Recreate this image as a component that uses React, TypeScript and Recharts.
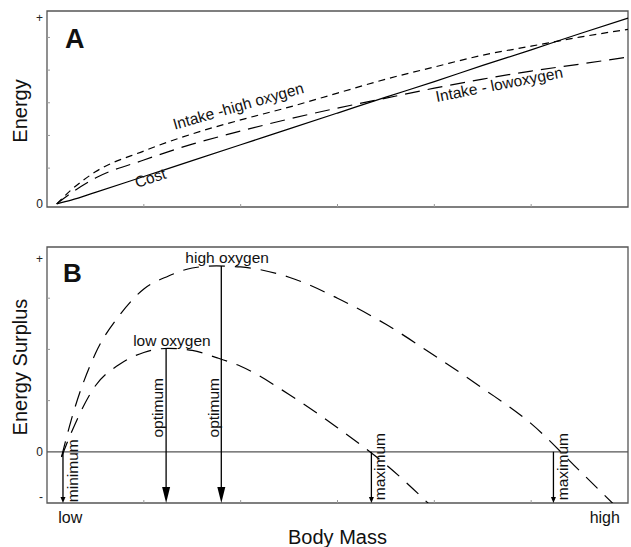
import { LineChart, Line, XAxis, YAxis, ReferenceArea, ReferenceLine, ReferenceDot } from "recharts";

// panel A: energy intake and cost against body mass (arbitrary units)
const massA = [0.1, 0.25, 0.5, 1, 1.5, 2, 2.5, 3, 3.5, 4, 4.5, 5, 5.5, 6];
const costA = [0, 0.12, 0.37, 0.88, 1.39, 1.9, 2.41, 2.92, 3.43, 3.93, 4.45, 4.95, 5.47, 5.97];
const intakeHighA = [0, 0.45, 1.03, 1.7, 2.25, 2.7, 3.11, 3.56, 4.01, 4.4, 4.78, 5.07, 5.36, 5.61];
const intakeLowA = [0, 0.35, 0.83, 1.41, 1.92, 2.34, 2.73, 3.08, 3.4, 3.72, 4.01, 4.27, 4.49, 4.72];

// panel B: energy surplus
const massB = [0.15, 0.25, 0.5, 0.75, 1, 1.25, 1.5, 1.75, 2, 2.5, 3, 3.5, 4, 4.5, 5, 5.5, 6];
const surplusHigh = [-0.1, 0.62, 1.92, 2.67, 3.18, 3.43, 3.59, 3.63, 3.61, 3.41, 3.0, 2.49, 1.88, 1.24, 0.55, -0.37, -1.3];
const surplusLow = [-0.1, 0.37, 1.29, 1.71, 1.94, 2.02, 1.98, 1.84, 1.67, 1.12, 0.47, -0.25, -1.12, null, null, null, null];

// optimum / limit body masses
const optLow = { mass: 1.23, surplus: 2.02 };
const optHigh = { mass: 1.8, surplus: 3.63 };
const minMass = 0.165;
const maxLow = 3.35;
const maxHigh = 5.23;

const ticksAY = [0, 1.15, 2.2, 3.25, 4.3, 5.35, 5.97];
const labelsAY: Record<number, string> = { 0: "0", 5.97: "+" };
const ticksBY = [-0.88, 0, 1, 2, 3, 3.76];
const labelsBY: Record<number, string> = { [-0.88]: "-", 0: "0", 3.76: "+" };
const ticksX = [1, 2, 3, 4, 5];
const ticksBX = [0.24, 1, 2, 3, 4, 5, 5.76];
const labelsBX: Record<number, string> = { 0.24: "low", 5.76: "high" };

const rowsA = massA.map((m, i) => ({ mass: m, cost: costA[i], high: intakeHighA[i], low: intakeLowA[i] }));
const rowsB = massB.map((m, i) => ({ mass: m, high: surplusHigh[i], low: surplusLow[i] }));

const FONT = "'Liberation Sans', Arial, Helvetica, sans-serif";
const FRAME = "#555";

const makeYTick = (labels: Record<number, string>) => (props: any) => {
  const { x, y, payload } = props;
  const label = labels[payload.value];
  return (
    <g>
      {label === undefined && <line x1={x} x2={x + 3} y1={y} y2={y} stroke="#999" />}
      {label !== undefined && (
        <text x={x - 4} y={y} dy={4} textAnchor="end" fontSize={12} fontFamily={FONT} fill="#222">
          {label}
        </text>
      )}
    </g>
  );
};

const makeXTick = (labels: Record<number, string>) => (props: any) => {
  const { x, y, payload } = props;
  const label = labels[payload.value];
  if (label === undefined) return <line x1={x} x2={x} y1={y} y2={y - 3} stroke="#999" />;
  return (
    <text x={x} y={y + 20} textAnchor="middle" fontSize={16} fontFamily={FONT} fill="#111">
      {label}
    </text>
  );
};

const textShape = (text: string, opts: { angle?: number; anchor?: string; size?: number; bold?: boolean }) =>
  (props: any) => {
    const { cx, cy } = props;
    const angle = opts.angle ?? 0;
    return (
      <text
        x={cx}
        y={cy}
        textAnchor={opts.anchor ?? "middle"}
        fontSize={opts.size ?? 15.5}
        fontWeight={opts.bold ? "bold" : "normal"}
        fontFamily={FONT}
        fill="#111"
        transform={angle ? `rotate(${angle} ${cx} ${cy})` : undefined}
      >
        {text}
      </text>
    );
  };

const arrowShape = (headW: number, headH: number) => (props: any) => {
  const { x1, y1, x2, y2 } = props;
  const top = Math.min(y1, y2);
  const bottom = Math.max(y1, y2);
  return (
    <g>
      <line x1={x1} x2={x2} y1={top} y2={bottom - headH + 1} stroke="#000" strokeWidth={1.3} />
      <polygon points={`${x2 - headW / 2},${bottom - headH} ${x2 + headW / 2},${bottom - headH} ${x2},${bottom}`} fill="#000" />
    </g>
  );
};

const YTitle = (text: string, cy: number) => () => (
  <text x={27} y={cy} textAnchor="middle" fontSize={20} fontFamily={FONT} fill="#111" transform={`rotate(-90 27 ${cy})`}>
    {text}
  </text>
);

const XTitle = (props: any) => {
  const vb = props.viewBox || {};
  return (
    <text x={vb.x + vb.width / 2} y={vb.y + 41} textAnchor="middle" fontSize={20} fontFamily={FONT} fill="#111">
      Body Mass
    </text>
  );
};

export default function App() {
  return (
    <div style={{ position: "absolute", left: 0, top: 0, width: 631, height: 547, background: "#fff" }}>
      <LineChart width={631} height={230} data={rowsA} margin={{ top: 11, right: 3, bottom: 0, left: 0 }}>
        <XAxis dataKey="mass" type="number" domain={[0, 6]} ticks={ticksX} interval={0} height={23}
          axisLine={false} tickLine={false} tickSize={0} tickMargin={0} tick={makeXTick({})} />
        <YAxis type="number" domain={[-0.1, 6.2]} allowDataOverflow ticks={ticksAY} interval={0} width={47}
          axisLine={false} tickLine={false} tickSize={0} tickMargin={0} tick={makeYTick(labelsAY)}
          label={YTitle("Energy", 111)} />
        <ReferenceArea x1={0} x2={6} y1={-0.1} y2={6.2} fill="none" stroke={FRAME} strokeWidth={1.3} />
        <Line dataKey="cost" type="monotone" stroke="#000" strokeWidth={1.2} dot={false} isAnimationActive={false} />
        <Line dataKey="high" type="monotone" stroke="#000" strokeWidth={1.2} strokeDasharray="7 5" dot={false} isAnimationActive={false} />
        <Line dataKey="low" type="monotone" stroke="#000" strokeWidth={1.2} strokeDasharray="15 8" dot={false} isAnimationActive={false} />
        <ReferenceDot x={0.186} y={5.0} r={0} shape={textShape("A", { anchor: "start", size: 27, bold: true })} />
        <ReferenceDot x={1.99} y={2.98} r={0} shape={textShape("Intake -high oxygen", { angle: -16 })} />
        <ReferenceDot x={1.085} y={0.67} r={0} shape={textShape("Cost", { angle: -18 })} />
        <ReferenceDot x={4.68} y={3.67} r={0} shape={textShape("Intake - lowoxygen", { angle: -11 })} />
      </LineChart>
      <LineChart width={631} height={317} data={rowsB} margin={{ top: 17, right: 3, bottom: 0, left: 0 }}>
        <XAxis dataKey="mass" type="number" domain={[0, 6]} ticks={ticksBX} interval={0} height={44}
          axisLine={false} tickLine={false} tickSize={0} tickMargin={0} tick={makeXTick(labelsBX)}
          label={<XTitle />} />
        <YAxis type="number" domain={[-1, 4]} allowDataOverflow ticks={ticksBY} interval={0} width={47}
          axisLine={false} tickLine={false} tickSize={0} tickMargin={0} tick={makeYTick(labelsBY)}
          label={YTitle("Energy Surplus", 137)} />
        <ReferenceArea x1={0} x2={6} y1={-1} y2={4} fill="none" stroke={FRAME} strokeWidth={1.3} />
        <ReferenceLine y={0} stroke={FRAME} strokeWidth={1.3} />
        <Line dataKey="high" type="monotone" stroke="#000" strokeWidth={1.2} strokeDasharray="16 10" dot={false} isAnimationActive={false} />
        <Line dataKey="low" type="monotone" stroke="#000" strokeWidth={1.2} strokeDasharray="16 10" dot={false} isAnimationActive={false} />
        <ReferenceLine segment={[{ x: optLow.mass, y: optLow.surplus }, { x: optLow.mass, y: -1 }]} shape={arrowShape(8, 16)} />
        <ReferenceLine segment={[{ x: optHigh.mass, y: optHigh.surplus }, { x: optHigh.mass, y: -1 }]} shape={arrowShape(8, 16)} />
        <ReferenceLine segment={[{ x: minMass, y: 0 }, { x: minMass, y: -1 }]} shape={arrowShape(5, 6)} />
        <ReferenceLine segment={[{ x: maxLow, y: 0 }, { x: maxLow, y: -1 }]} shape={arrowShape(5, 6)} />
        <ReferenceLine segment={[{ x: maxHigh, y: 0 }, { x: maxHigh, y: -1 }]} shape={arrowShape(5, 6)} />
        <ReferenceDot x={0.165} y={3.31} r={0} shape={textShape("B", { anchor: "start", size: 26, bold: true })} />
        <ReferenceDot x={1.86} y={3.69} r={0} shape={textShape("high oxygen", {})} />
        <ReferenceDot x={1.29} y={2.06} r={0} shape={textShape("low oxygen", {})} />
        <ReferenceDot x={1.2} y={0.86} r={0} shape={textShape("optimum", { angle: -90 })} />
        <ReferenceDot x={1.776} y={0.86} r={0} shape={textShape("optimum", { angle: -90 })} />
        <ReferenceDot x={0.32} y={-0.37} r={0} shape={textShape("minimum", { angle: -90 })} />
        <ReferenceDot x={3.49} y={-0.29} r={0} shape={textShape("maximum", { angle: -90 })} />
        <ReferenceDot x={5.38} y={-0.29} r={0} shape={textShape("maximum", { angle: -90 })} />
      </LineChart>
    </div>
  );
}
